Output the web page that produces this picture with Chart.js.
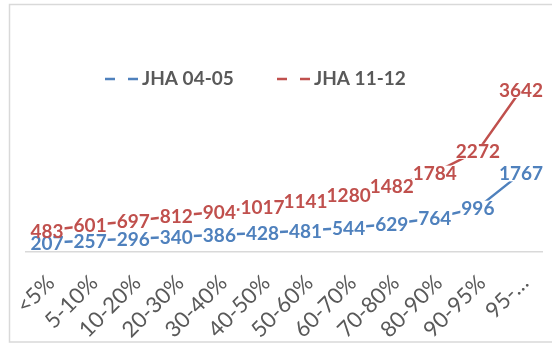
<!DOCTYPE html>
<html>
<head>
<meta charset="utf-8">
<script src="https://cdn.jsdelivr.net/npm/chart.js@4/dist/chart.umd.min.js"></script>
<style>
  html, body { margin: 0; padding: 0; background: #ffffff; }
  #wrap { width: 552px; height: 345px; position: relative; }
</style>
</head>
<body>
<div id="wrap"><canvas id="c" width="552" height="345"></canvas></div>
<script>
// Consumption class categories (x axis)
const categories = ['<5%', '5-10%', '10-20%', '20-30%', '30-40%', '40-50%',
                    '50-60%', '60-70%', '70-80%', '80-90%', '90-95%', '95-…'];
// Series names and values
const seriesNames = ['JHA 04-05', 'JHA 11-12'];
const jha0405 = [207, 257, 296, 340, 386, 428, 481, 544, 629, 764, 996, 1767];
const jha1112 = [483, 601, 697, 812, 904, 1017, 1141, 1280, 1482, 1784, 2272, 3642];
const seriesColors = ['#4F81BD', '#C0504D'];

const TEXT_GREY = '#595959';
const FRAME_GREY = '#D9D9D9';
const LABEL_FONT = 'bold 19px Lato';

// Outer frame around the whole chart
const framePlugin = {
  id: 'frame',
  beforeDraw(chart) {
    const ctx = chart.ctx;
    ctx.save();
    ctx.fillStyle = '#ffffff';
    ctx.fillRect(0, 0, chart.width, chart.height);
    ctx.strokeStyle = FRAME_GREY;
    ctx.lineWidth = 1.5;
    ctx.strokeRect(9.5, 4.5, 600, 337.5);
    ctx.restore();
  }
};

// Value labels centred on each point, on a white box that hides the line behind
const valueLabels = {
  id: 'valueLabels',
  afterDatasetsDraw(chart) {
    const ctx = chart.ctx;
    ctx.save();
    ctx.font = LABEL_FONT;
    ctx.textAlign = 'center';
    ctx.textBaseline = 'middle';
    const items = [];
    chart.data.datasets.forEach((ds, i) => {
      const meta = chart.getDatasetMeta(i);
      meta.data.forEach((pt, j) => {
        items.push({ text: String(ds.data[j]), x: pt.x, y: pt.y, color: ds.borderColor });
      });
    });
    ctx.fillStyle = '#ffffff';
    items.forEach(it => {
      const w = ctx.measureText(it.text).width;
      ctx.fillRect(it.x - w / 2 - 1, it.y - 7, w + 2, 15);
    });
    items.forEach(it => {
      ctx.fillStyle = it.color;
      ctx.fillText(it.text, it.x, it.y + 1);
    });
    ctx.restore();
  }
};

// Legend with dashed line keys
const dashedLegend = {
  id: 'dashedLegend',
  afterDraw(chart) {
    const ctx = chart.ctx;
    const starts = [105, 277];
    const y = 79;
    ctx.save();
    ctx.font = 'bold 19px Lato';
    ctx.textBaseline = 'middle';
    ctx.textAlign = 'left';
    chart.data.datasets.forEach((ds, i) => {
      const x0 = starts[i];
      ctx.strokeStyle = ds.borderColor;
      ctx.lineWidth = 2.5;
      ctx.setLineDash([10, 13]);
      ctx.beginPath();
      ctx.moveTo(x0, y);
      ctx.lineTo(x0 + 33, y);
      ctx.stroke();
      ctx.setLineDash([]);
      ctx.fillStyle = TEXT_GREY;
      ctx.fillText(ds.label, x0 + 37, y);
    });
    ctx.restore();
  }
};

new Chart(document.getElementById('c'), {
  type: 'line',
  data: {
    labels: categories,
    datasets: [
      { label: seriesNames[0], data: jha0405, borderColor: seriesColors[0], backgroundColor: seriesColors[0] },
      { label: seriesNames[1], data: jha1112, borderColor: seriesColors[1], backgroundColor: seriesColors[1] }
    ]
  },
  options: {
    responsive: false,
    animation: false,
    devicePixelRatio: 1,
    layout: { padding: { top: 74, left: 25.5, right: 9.5, bottom: 0 } },
    elements: {
      line: { borderWidth: 2.5, tension: 0 },
      point: { radius: 0, hoverRadius: 0 }
    },
    plugins: {
      legend: { display: false },
      tooltip: { enabled: false }
    },
    scales: {
      x: {
        offset: true,
        grid: { display: false, drawTicks: false },
        border: { display: true, color: FRAME_GREY, width: 1.5 },
        ticks: {
          autoSkip: false,
          minRotation: 45,
          maxRotation: 45,
          padding: 18,
          labelOffset: 4,
          color: TEXT_GREY,
          font: { family: 'Lato', size: 22 }
        },
        afterFit(s) { s.height = 93; s.paddingLeft = 0; s.paddingRight = 0; }
      },
      y: {
        display: false,
        min: 0,
        max: 4000
      }
    }
  },
  plugins: [framePlugin, valueLabels, dashedLegend]
});
</script>
</body>
</html>
